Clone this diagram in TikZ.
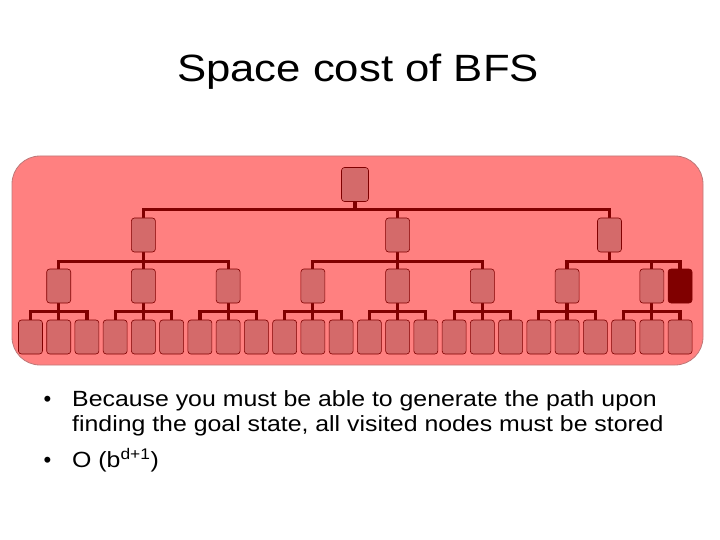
\documentclass[tikz,border=0pt]{standalone}
\usepackage{fontspec}
\setmainfont{Liberation Sans}
\usetikzlibrary{calc}
\definecolor{bgfill}{RGB}{255,128,128}
\definecolor{bgline}{RGB}{190,120,120}
\definecolor{nodefill}{RGB}{212,106,106}
\definecolor{darkr}{RGB}{128,0,0}
\pgfdeclarelayer{back}
\pgfdeclarelayer{mid}
\pgfsetlayers{back,mid,main}
\begin{document}
\begin{tikzpicture}[x=1pt,y=-1pt,
  tnode/.style={draw=darkr,line width=0.6pt,fill=nodefill,rounded corners=3pt,minimum width=24pt,minimum height=34pt,inner sep=0pt},
  goalnode/.style={tnode,fill=darkr},
  conn/.style={draw=darkr,line width=3.2pt},
  bul/.style={anchor=base west,inner sep=0pt,font=\fontsize{22}{26}\selectfont}]
\useasboundingbox (0,0) rectangle (720,540);
\begin{pgfonlayer}{back}
\fill[white] (0,0) rectangle (720,540);
\draw[fill=bgfill,draw=bgline,line width=0.8pt,rounded corners=28pt] (12,156) rectangle (703,365);
\end{pgfonlayer}
\node[anchor=base,inner sep=0pt] (title) at (358,82) {\scalebox{1.15}[1]{\fontsize{38}{44}\selectfont Space cost of BFS}};
% root
\node[tnode,minimum width=27pt] (r) at (355,184.5) {};
% level 1
\node[tnode] (a1) at (143.4,235) {};
\node[tnode] (a2) at (397.6,235) {};
\node[tnode] (a3) at (609.5,235) {};
% level 2
\foreach \g in {0,...,7}{
  \node[tnode] (b\g) at ({58.7+84.73*\g},286) {};
}
\node[goalnode] (goal) at ({58.7+84.73*7+28.24},286) {};
% level 3
\foreach \g in {0,...,7}{
  \foreach \k in {0,1,2}{
    \node[tnode] (c\g\k) at ({58.7+84.73*\g+28.24*(\k-1)},337) {};
  }
}
\begin{pgfonlayer}{mid}
% connectors root -> level 1
\foreach \c in {a1,a2,a3}{
  \draw[conn] (r.south) -- ($(r.south)+(0,8)$) -| (\c.north);
}
% level 1 -> level 2
\foreach \c in {b0,b1,b2}{\draw[conn] (a1.south) -- ($(a1.south)+(0,9)$) -| (\c.north);}
\foreach \c in {b3,b4,b5}{\draw[conn] (a2.south) -- ($(a2.south)+(0,9)$) -| (\c.north);}
\foreach \c in {b6,b7,goal}{\draw[conn] (a3.south) -- ($(a3.south)+(0,9)$) -| (\c.north);}
% level 2 -> level 3
\foreach \g in {0,...,7}{
  \foreach \k in {0,1,2}{
    \draw[conn] (b\g.south) -- ($(b\g.south)+(0,8)$) -| (c\g\k.north);
  }
}
\end{pgfonlayer}
% text
\node[bul,anchor=base] (d1) at (47.5,406) {•};
\node[bul] (t1) at (72,406) {\scalebox{1.13}[1]{Because you must be able to generate the path upon}};
\node[bul] (t2) at (72,431) {\scalebox{1.13}[1]{finding the goal state, all visited nodes must be stored}};
\node[bul,anchor=base] (d2) at (47.5,467) {•};
\node[bul] (t3) at (72,467) {\scalebox{1.13}[1]{O (b\textsuperscript{d+1})}};
\end{tikzpicture}
\end{document}
